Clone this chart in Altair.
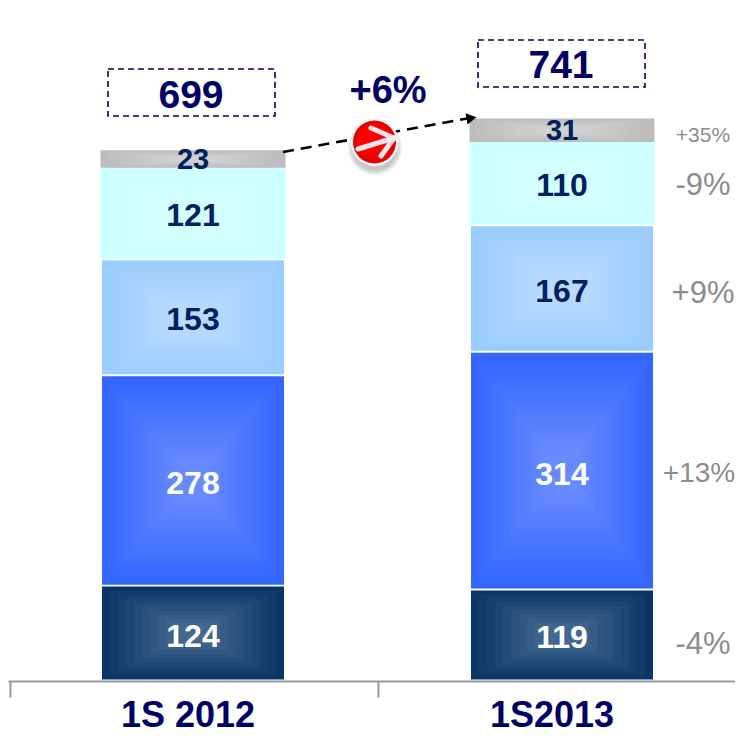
import altair as alt
import pandas as pd

categories = ["1S 2012", "1S2013"]
segment_names = ["Dark", "Blue", "Light", "Cyan", "Gray"]
values_2012 = [124, 278, 153, 121, 23]
values_2013 = [119, 314, 167, 110, 31]
totals = [699, 741]
growth_labels = ["-4%", "+13%", "+9%", "-9%", "+35%"]
growth_sizes = [31, 28, 31, 31, 21]
growth_x_px = [703, 699, 703, 703, 703]
growth_y_px = [645, 474, 294, 186, 136]
edge_colors = ["#0a3566", "#3366ff", "#99ccff", "#ccffff", "#bcbcbc"]
centre_colors = ["#486e94", "#6a8cff", "#bcdcff", "#d6ffff", "#d4d4d4"]
text_colors = ["#ffffff", "#ffffff", "#002060", "#002060", "#002060"]
half_widths_px = [91, 91, 91, 92.5, 92.5]
gradient_steps = [10, 18, 18, 6, 12]
label_nudge_px = [4, 4, 3, 2.5, 0.5]
total_box_y_px = [(69, 116), (40, 87)]
total_label_y_px = [96, 66]
cat_label_x_px = [188, 552]

PX_PER_X = 369.0
PX_PER_Y = 0.757
def X(px): return (px - 193) / PX_PER_X
def Y(px): return (679.5 - px) / PX_PER_Y

W, H = 727, 673
xs = alt.Scale(domain=[X(8), X(735)], nice=False, zero=False)
ys = alt.Scale(domain=[Y(681), Y(8)], nice=False, zero=False)
FONT = "Liberation Sans"
NAVY = "#000066"


def mix(a, b, t):
    ca = [int(a[i:i + 2], 16) for i in (1, 3, 5)]
    cb = [int(b[i:i + 2], 16) for i in (1, 3, 5)]
    return "#%02x%02x%02x" % tuple(round(p + (q - p) * t) for p, q in zip(ca, cb))


GAP = 1.3
rects, labels = [], []
for c, vals in enumerate([values_2012, values_2013]):
    base = 0
    for s, v in enumerate(vals):
        lo = base + (GAP if 0 < s < 4 else 0)
        hi = base + v - (GAP if s < 3 else 0)
        hw = half_widths_px[s] / PX_PER_X
        mid = base + v / 2
        n = gradient_steps[s]
        for k in range(n):
            t = k / n
            f = 1 - 0.88 * t
            rects.append({"x": c - hw * f, "x2": c + hw * f,
                          "y": mid - (mid - lo) * f, "y2": mid + (hi - mid) * f,
                          "fill": mix(edge_colors[s], centre_colors[s], t)})
        labels.append({"x": c, "y": mid - label_nudge_px[s] / PX_PER_Y, "t": str(v), "col": text_colors[s],
                       "size": 29 if s == 4 else 32})
        base += v

enc_x = alt.X("x:Q", scale=xs, axis=None)
enc_y = alt.Y("y:Q", scale=ys, axis=None)

bars = alt.Chart(pd.DataFrame(rects)).mark_rect(strokeWidth=0).encode(
    x=alt.X("x:Q", scale=xs, axis=alt.Axis(values=[X(10), X(378)], labels=False, title=None, grid=False,
                                            tickSize=16, tickColor="#999999", tickWidth=2,
                                            domainColor="#999999", domainWidth=2)),
    x2="x2:Q",
    y=enc_y,
    y2="y2:Q",
    color=alt.Color("fill:N", scale=None),
)

seg_text = alt.Chart(pd.DataFrame(labels)).mark_text(font=FONT, fontWeight="bold", baseline="middle", align="center").encode(
    x=enc_x, y=enc_y, text="t:N",
    color=alt.Color("col:N", scale=None),
    size=alt.Size("size:Q", scale=None),
)

boxes = alt.Chart(pd.DataFrame([
    {"x": X(108), "x2": X(275), "y": Y(total_box_y_px[0][1]), "y2": Y(total_box_y_px[0][0])},
    {"x": X(478), "x2": X(645), "y": Y(total_box_y_px[1][1]), "y2": Y(total_box_y_px[1][0])},
])).mark_rect(fillOpacity=0, stroke=NAVY, strokeWidth=1.6, strokeDash=[6, 4]).encode(
    x=enc_x, x2="x2:Q", y=enc_y, y2="y2:Q")

total_text = alt.Chart(pd.DataFrame([
    {"x": X(191), "y": Y(total_label_y_px[0]), "t": str(totals[0])},
    {"x": X(561), "y": Y(total_label_y_px[1]), "t": str(totals[1])},
])).mark_text(font=FONT, fontWeight="bold", fontSize=39, color=NAVY, baseline="middle").encode(
    x=enc_x, y=enc_y, text="t:N")

growth_text = alt.Chart(pd.DataFrame({
    "x": [X(p) for p in growth_x_px], "y": [Y(p) for p in growth_y_px], "t": growth_labels, "size": growth_sizes,
})).mark_text(font=FONT, color="#8c8c8c", baseline="middle").encode(
    x=enc_x, y=enc_y, text="t:N", size=alt.Size("size:Q", scale=None))

cat_text = alt.Chart(pd.DataFrame({
    "x": [X(p) for p in cat_label_x_px], "y": [Y(716)] * 2, "t": categories,
})).mark_text(font=FONT, fontWeight="bold", fontSize=36, color=NAVY, baseline="middle").encode(
    x=enc_x, y=enc_y, text="t:N")

pct_text = alt.Chart(pd.DataFrame({"x": [X(388)], "y": [Y(92)], "t": ["+6%"]})).mark_text(
    font=FONT, fontWeight="bold", fontSize=38, color=NAVY, baseline="middle").encode(
    x=enc_x, y=enc_y, text="t:N")

link = alt.Chart(pd.DataFrame({"x": [X(283), X(470)], "y": [Y(152), Y(118)]})).mark_line(
    color="black", strokeWidth=2.6, strokeDash=[11, 7]).encode(x=enc_x, y=enc_y)

head = alt.Chart(pd.DataFrame({"x": [X(471.5)], "y": [Y(118)]})).mark_point(
    shape="triangle-up", filled=True, color="black", opacity=1, size=135, angle=80).encode(x=enc_x, y=enc_y)


def disc(px, py, r, color, opacity=1.0):
    return alt.Chart(pd.DataFrame({"x": [X(px)], "y": [Y(py)]})).mark_circle(
        color=color, opacity=opacity, size=4 * r * r, strokeWidth=0).encode(x=enc_x, y=enc_y)


icon = [disc(375, 148, r, "#606060", 0.10) for r in (27, 25.5, 24, 22.5)]
icon += [disc(374.5, 142, 24, "#f4f4f4"), disc(374.5, 142, 21.5, "#e60000"),
         disc(374, 141, 18, "#f20000"), disc(373, 140, 14, "#ff0000")]

strokes = alt.Chart(pd.DataFrame([
    {"x": X(358), "x2": X(394), "y": Y(149), "y2": Y(138)},
    {"x": X(371), "x2": X(394), "y": Y(128), "y2": Y(138)},
    {"x": X(381), "x2": X(394), "y": Y(156), "y2": Y(138)},
])).mark_rule(color="#ffe6e6", strokeWidth=5, strokeCap="round").encode(
    x=enc_x, x2="x2:Q", y=enc_y, y2="y2:Q")

chart = alt.layer(bars, seg_text, boxes, total_text, growth_text, cat_text, link, head, *icon, strokes, pct_text).properties(
    width=W, height=H,
    autosize=alt.AutoSizeParams(type="none"),
    padding={"left": 0, "top": 0, "right": 0, "bottom": 54},
).resolve_axis(x="independent").configure_view(stroke=None)

chart.save("out.html", embed_options={"renderer": "svg", "actions": False})
